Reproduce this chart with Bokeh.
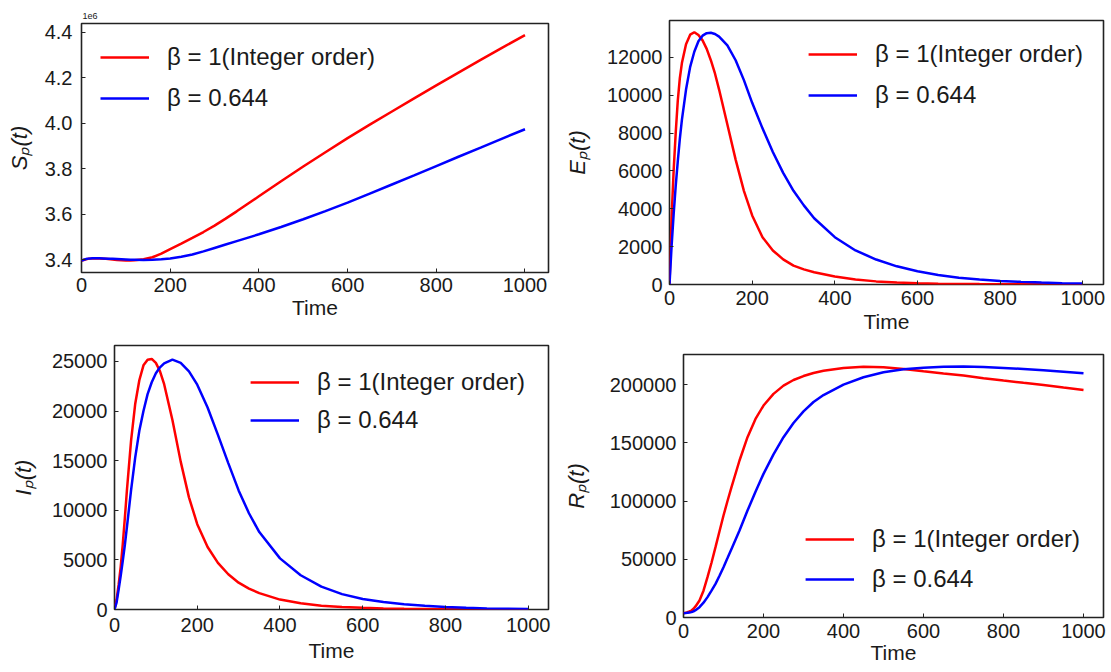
from bokeh.plotting import figure
from bokeh.layouts import column, row
from bokeh.models import Legend, LegendItem, FixedTicker, NumeralTickFormatter, Range1d
from bokeh.embed import file_html
from bokeh.resources import INLINE

# ---------------- data ----------------
time = [0, 5, 10, 15, 20, 25, 30, 40, 50, 60, 70, 80, 90, 100, 110, 120, 140, 160, 180, 200,
        225, 250, 275, 300, 325, 350, 400, 450, 500, 550, 600, 650, 700, 750, 800, 850, 900, 950,
        1000]

# S_p(t) in units of 1e6
s_integer = [3.395, 3.398, 3.401, 3.403, 3.404, 3.405, 3.405, 3.405, 3.404, 3.402, 3.400, 3.398,
             3.397, 3.396, 3.396, 3.397, 3.401, 3.410, 3.426, 3.446, 3.470, 3.495, 3.521, 3.549,
             3.580, 3.612, 3.678, 3.744, 3.809, 3.872, 3.934, 3.993, 4.051, 4.109, 4.166, 4.222,
             4.278, 4.333, 4.387]
s_frac = [3.395, 3.399, 3.402, 3.404, 3.405, 3.406, 3.406, 3.406, 3.405, 3.404, 3.403, 3.402,
          3.401, 3.400, 3.399, 3.399, 3.398, 3.399, 3.401, 3.405, 3.412, 3.422, 3.436, 3.451,
          3.466, 3.481, 3.511, 3.543, 3.577, 3.613, 3.650, 3.690, 3.730, 3.770, 3.811, 3.852,
          3.892, 3.933, 3.973]

e_integer = [0, 3500, 6000, 8000, 9700, 10900, 11700, 12700, 13200, 13330, 13180, 12900, 12450,
             11850, 11150, 10300, 8450, 6600, 4950, 3650, 2500, 1800, 1330, 1000, 800, 650, 420,
             260, 165, 105, 68, 46, 31, 22, 16, 12, 9, 7, 5]
e_frac = [0, 2000, 3700, 5200, 6500, 7700, 8700, 10300, 11500, 12300, 12850, 13150, 13280, 13300,
          13240, 13100, 12640, 11850, 10800, 9600, 8250, 7000, 5900, 4950, 4180, 3500, 2500, 1800,
          1320, 960, 700, 500, 360, 260, 190, 140, 100, 70, 50]

i_integer = [0, 1000, 2500, 4300, 6600, 9200, 12000, 17000, 20700, 23100, 24600, 25170, 25250,
             24850, 24000, 22700, 19100, 14900, 11300, 8600, 6300, 4700, 3550, 2700, 2100, 1650,
             1000, 620, 380, 250, 170, 110, 70, 50, 30, 20, 12, 8, 5]
i_frac = [0, 700, 2000, 3400, 4900, 6500, 8300, 12000, 15300, 18000, 20000, 21700, 22900, 23800,
          24400, 24800, 25170, 24850, 24000, 22650, 20350, 17600, 14750, 12000, 9700, 7800, 5150,
          3450, 2300, 1550, 1050, 750, 540, 380, 260, 170, 110, 70, 45]

r_integer = [3700, 4000, 4500, 5200, 6000, 7500, 9500, 14600, 23000, 34600, 47000, 60400, 74000,
             87550, 100000, 111900, 134800, 154800, 170500, 182000, 192000, 199100, 203900,
             207300, 209900, 211800, 214300, 215300, 214900, 213400, 211400, 209500, 207700,
             205500, 203400, 201500, 199700, 197500, 195400]
r_frac = [3700, 3800, 4000, 4300, 4600, 5300, 6300, 8900, 12700, 17500, 23000, 28900, 35800, 43200,
          51000, 58900, 74700, 91800, 108000, 123300, 140000, 154800, 167000, 177000, 185000,
          191000, 200000, 206300, 210600, 213200, 214500, 215200, 215400, 215100, 214300, 213300,
          212200, 211000, 209700]

x_ticks = [0, 200, 400, 600, 800, 1000]
s_ticks = [3.4, 3.6, 3.8, 4.0, 4.2, 4.4]
e_ticks = [0, 2000, 4000, 6000, 8000, 10000, 12000]
i_ticks = [0, 5000, 10000, 15000, 20000, 25000]
r_ticks = [0, 50000, 100000, 150000, 200000]

label_integer = "β = 1(Integer order)"
label_frac = "β = 0.644"

TEXT = "#1a1a1a"
FONT = "Liberation Sans"


def make(width, height, left, right, top, bottom, x_end, y_range, yticks, fmt, ylabel,
         y_int, y_frac, loc, leg_margin, glyph_h, leg_spacing, tick_standoff, label_standoff,
         x_tick_standoff, x_label_standoff):
    p = figure(width=width, height=height, output_backend="svg", toolbar_location=None,
               x_range=Range1d(0, x_end), y_range=Range1d(*y_range),
               min_border_left=left, min_border_right=right, min_border_top=top,
               min_border_bottom=bottom, background_fill_color="white",
               border_fill_color="white")
    p.grid.visible = False
    p.outline_line_color = "#222222"
    p.outline_line_width = 1.6
    r1 = p.line(time, y_int, line_color="#ff0000", line_width=2.5)
    r2 = p.line(time, y_frac, line_color="#0000ff", line_width=2.5)

    p.xaxis.ticker = FixedTicker(ticks=x_ticks)
    p.yaxis.ticker = FixedTicker(ticks=yticks)
    p.yaxis.formatter = NumeralTickFormatter(format=fmt)
    p.xaxis.formatter = NumeralTickFormatter(format="0")
    for ax in (p.xaxis, p.yaxis):
        ax.axis_line_color = None
        ax.major_tick_in = 4
        ax.major_tick_out = 0
        ax.major_tick_line_color = "#222222"
        ax.minor_tick_line_color = None
        ax.major_label_text_font = FONT
        ax.major_label_text_font_size = "20px"
        ax.major_label_text_color = TEXT
        ax.axis_label_text_font = FONT
        ax.axis_label_text_color = TEXT
    p.xaxis.axis_label = "Time"
    p.xaxis.axis_label_text_font_size = "21px"
    p.xaxis.axis_label_text_font_style = "normal"
    p.xaxis.axis_label_standoff = x_label_standoff
    p.xaxis.major_label_standoff = x_tick_standoff
    p.yaxis.axis_label = ylabel
    p.yaxis.axis_label_text_font_style = "italic"
    p.yaxis.axis_label_text_font_size = "22px"
    p.yaxis.axis_label_standoff = label_standoff
    p.yaxis.major_label_standoff = tick_standoff

    legend = Legend(items=[LegendItem(label=label_integer, renderers=[r1]),
                           LegendItem(label=label_frac, renderers=[r2])],
                    location=loc, margin=leg_margin, padding=0, spacing=leg_spacing,
                    glyph_width=49, glyph_height=glyph_h, label_height=glyph_h,
                    label_standoff=18, label_text_font=FONT, label_text_font_size="24px",
                    label_text_color=TEXT, background_fill_alpha=0, border_line_color=None)
    p.add_layout(legend)
    return p


p1 = make(560, 338, 81, 12, 23, 66, 1053, (3.343, 4.438), s_ticks, "0.0", "Sₚ(t)",
          s_integer, s_frac, "top_left", 19, 30, 11, 9, 10, 5, 1)
p1.title.text = "1e6"
p1.title.text_font = FONT
p1.title.text_font_size = "9px"
p1.title.text_font_style = "normal"
p1.title.text_color = TEXT
p1.title.align = "left"
p1.title.standoff = 9
p1.title.offset = 1

p2 = make(551, 338, 109, 8, 20, 54, 1050, (0, 13950), e_ticks, "0", "Eₚ(t)",
          e_integer, e_frac, "top_right", 20, 28, 13, 7, 14, 6, 2)
p3 = make(560, 334, 114, 12, 7, 63, 1049, (0, 26600), i_ticks, "0", "Iₚ(t)",
          i_integer, i_frac, "top_right", 23, 28, 10, 7, 13, 8, 4)
p4 = make(551, 334, 121, 8, 16, 55, 1050, (0, 225800), r_ticks, "0", "Rₚ(t)",
          r_integer, r_frac, "bottom_right", 23, 30, 10, 7, 18, 6, 0)

top_row = row(column(p1), column(p2), spacing=0)
bottom_row = row(column(p3), column(p4), spacing=0)
layout = column(top_row, bottom_row, spacing=0)

open("out.html", "w").write(file_html(layout, INLINE))
